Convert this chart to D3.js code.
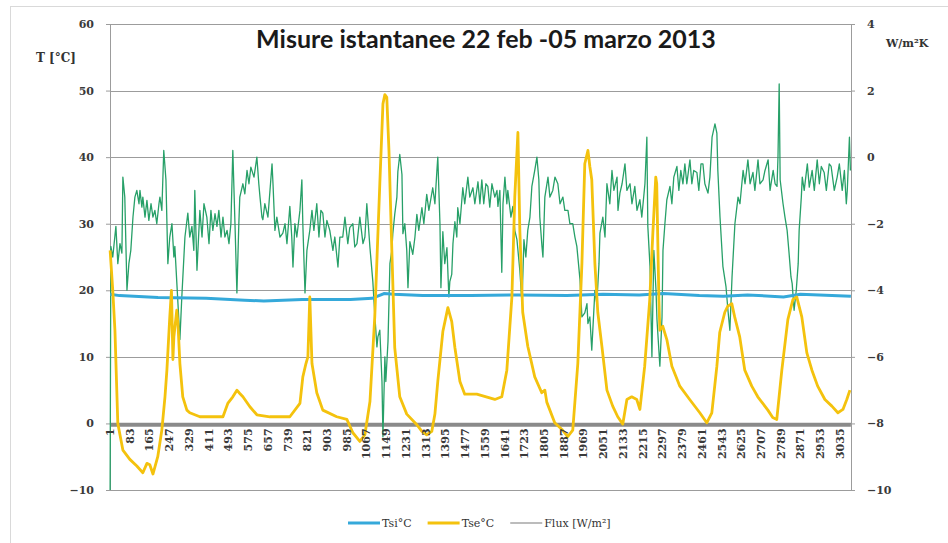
<!DOCTYPE html>
<html>
<head>
<meta charset="utf-8">
<script src="https://cdn.jsdelivr.net/npm/d3@7"></script>
<style>
  body { margin: 0; background: #fff; }
  text { font-family: 'Liberation Sans', Arial, sans-serif; }
</style>
</head>
<body>
<svg id="chart" width="948" height="543"></svg>
<script>
// number of samples on the category axis
const nSamples = 3080;

// category labels shown on the x axis (every 82 samples)
const xTickLabels = [1, 83, 165, 247, 329, 411, 493, 575, 657, 739, 821, 903, 985, 1067, 1149, 1231,
  1313, 1395, 1477, 1559, 1641, 1723, 1805, 1887, 1969, 2051, 2133, 2215, 2297, 2379, 2461, 2543,
  2625, 2707, 2789, 2871, 2953, 3035];
const leftTicks = [-10, 0, 10, 20, 30, 40, 50, 60];
const rightTicks = [-10, -8, -6, -4, -2, 0, 2, 4];

// Tsi °C  [sample, value]
const tsi = [[1, 19.4], [40, 19.2], [200, 18.9], [400, 18.8], [560, 18.5], [640, 18.4], [800, 18.6],
  [1000, 18.6], [1090, 18.8], [1140, 19.5], [1180, 19.4], [1300, 19.2], [1500, 19.2], [1700, 19.3],
  [1900, 19.2], [2050, 19.4], [2200, 19.3], [2300, 19.5], [2450, 19.2], [2550, 19.1], [2650, 19.3],
  [2800, 19.0], [2870, 19.4], [3080, 19.1]];

// Tse °C  [sample, value]
const tse = [[1, 26], [12, 20], [21, 14], [33, 0], [54, -4], [83, -5.4], [112, -6.4], [137, -7.4],
  [154, -6], [166, -6.2], [179, -7.6], [199, -5], [216, -1], [229, 4], [237, 8], [249, 16], [256, 20],
  [262, 9.6], [266, 13], [278, 17], [283, 15], [291, 9], [303, 4], [320, 2], [332, 1.6], [374, 1],
  [470, 1], [490, 3], [511, 4], [528, 5], [540, 4.5], [553, 4], [582, 2.5], [611, 1.3], [665, 1],
  [748, 1], [790, 3], [802, 7], [815, 9], [823, 10], [831, 19], [840, 9], [860, 4.6], [885, 2],
  [943, 1], [985, 0.6], [1010, -1.4], [1039, -2.7], [1060, -1.7], [1081, 3.3], [1101, 16], [1122, 36],
  [1135, 48], [1143, 49.4], [1151, 49], [1160, 41], [1172, 26], [1184, 11.4], [1205, 4], [1234, 1.4],
  [1276, -0.2], [1297, -1.2], [1317, -1.7], [1338, -1.2], [1351, 1.4], [1363, 6.3], [1384, 13.8],
  [1405, 17.4], [1421, 15.3], [1434, 11.4], [1455, 6.3], [1475, 4.4], [1525, 4.4], [1600, 3.6],
  [1629, 4], [1650, 8], [1671, 19], [1683, 34], [1696, 43.7], [1704, 29], [1716, 16.7], [1737, 11.6],
  [1766, 7], [1795, 4.6], [1808, 5], [1816, 3.2], [1849, 0.1], [1879, -0.9], [1903, -2], [1924, -1],
  [1945, 9], [1962, 24], [1974, 39], [1987, 41], [1995, 38.6], [2003, 36.6], [2016, 24], [2028, 16.7],
  [2045, 11.6], [2066, 5], [2090, 2.6], [2111, 1], [2132, -0.1], [2149, 3.6], [2169, 4], [2190, 3.6],
  [2203, 2.1], [2223, 8.6], [2244, 18.6], [2257, 28.7], [2269, 37], [2273, 36], [2282, 18.6],
  [2286, 14], [2298, 14.6], [2315, 12.6], [2336, 8.6], [2369, 5.6], [2410, 3.6], [2452, 1.6],
  [2481, 0.1], [2502, 1.6], [2523, 8.6], [2535, 13.7], [2556, 16.7], [2568, 17.6], [2585, 18],
  [2597, 16], [2618, 13], [2639, 8], [2668, 5.6], [2693, 4], [2735, 2], [2755, 0.9], [2772, 0.6],
  [2793, 8], [2818, 15.6], [2839, 18.6], [2855, 19], [2876, 16], [2897, 10.6], [2918, 8], [2942, 5.6],
  [2972, 3.6], [3001, 2.6], [3026, 1.6], [3047, 2.1], [3063, 3.6], [3076, 5]];

// Flux [W/m²]  [sample, value]
const flux = [[1, -0.2], [600, -0.2], [1200, -0.2], [1800, -0.2], [2400, -0.2], [3080, -0.2]];

// W/m²K on the secondary axis  [sample, value]
const uValue = [[1, -10], [4, -2.68], [12, -3], [25, -2.08], [33, -3.2], [42, -2.6], [50, -2.88],
  [54, -0.6], [62, -1.2], [71, -4], [79, -3.2], [87, -2.8], [96, -1.8], [104, -1.2], [112, -1],
  [121, -1.4], [125, -1], [133, -1.5], [137, -1.2], [146, -1.8], [154, -1.3], [162, -1.9], [171, -1.4],
  [179, -1.8], [187, -1.6], [195, -2], [204, -1.4], [208, -1.2], [216, -1.6], [224, 0.2], [233, -0.68],
  [241, -3.2], [249, -2.4], [258, -2], [266, -3], [270, -2.68], [283, -4.4], [291, -5.48], [299, -4.2],
  [312, -2.4], [324, -1.68], [332, -2.4], [341, -2.08], [349, -2.8], [353, -1], [362, -3.4], [374, -1.6],
  [383, -2.4], [391, -1.4], [403, -1.8], [412, -2.6], [420, -1.6], [428, -2.2], [437, -1.7],
  [445, -2.08], [453, -1.6], [462, -2.4], [470, -1.8], [478, -2.4], [487, -2.2], [495, -2.6], [503, -2],
  [511, 0.2], [520, -2], [528, -4.08], [536, -2], [540, -1.2], [553, -0.8], [561, -1.1], [570, -0.4],
  [578, -0.8], [586, -0.3], [599, -0.6], [611, 0], [619, -0.8], [624, -1.2], [632, -1.8], [636, -1.88],
  [644, -1.4], [657, -1.8], [674, -0.2], [678, -0.8], [686, -2.2], [694, -1.8], [707, -2.4],
  [719, -2.28], [728, -2], [736, -2.6], [748, -1.48], [756, -2.4], [761, -3.3], [769, -2], [777, -2.4],
  [790, -1.6], [798, -0.68], [802, -2], [811, -4.08], [819, -2.8], [831, -2.2], [840, -1.6], [848, -2.2],
  [860, -1.4], [869, -2.4], [877, -1.6], [885, -1.68], [894, -2.4], [902, -1.9], [914, -2.2],
  [927, -2.8], [935, -2.4], [948, -3.3], [956, -2.4], [968, -2.4], [977, -1.8], [989, -2.6],
  [997, -2.12], [1010, -2], [1018, -2.7], [1027, -2.6], [1039, -1.8], [1052, -2.6], [1060, -2.4],
  [1068, -1.4], [1081, -2.72], [1093, -3.74], [1101, -4.72], [1110, -5.7], [1114, -5.4], [1122, -5.2],
  [1131, -6.74], [1135, -8.4], [1143, -6], [1147, -6.74], [1156, -5.54], [1164, -3.2], [1172, -2.8],
  [1176, -2.3], [1184, -1.72], [1193, -1.2], [1197, -0.44], [1205, 0.08], [1214, -0.52], [1218, -2.3],
  [1226, -2], [1234, -2.8], [1239, -3.92], [1247, -2.54], [1259, -2.92], [1268, -2.4], [1276, -1.72],
  [1284, -2.2], [1297, -1.52], [1305, -2], [1317, -1.12], [1326, -1.6], [1342, -0.92], [1351, -1.4],
  [1359, -0.44], [1363, 0], [1372, -2], [1376, -3.92], [1384, -2.24], [1392, -3.2], [1401, -2.72],
  [1409, -4.2], [1413, -3.74], [1421, -3.52], [1426, -2.6], [1434, -1.94], [1442, -2.4], [1446, -1.52],
  [1455, -2], [1467, -0.92], [1475, -1.4], [1488, -0.6], [1496, -1.2], [1509, -0.92], [1517, -1.4],
  [1530, -0.74], [1538, -1.4], [1546, -0.68], [1554, -1.4], [1563, -0.8], [1571, -0.88], [1579, -1.5],
  [1588, -0.8], [1600, -1.2], [1609, -1], [1613, -1.48], [1621, -1], [1629, -3.46], [1634, -1.4],
  [1642, -0.6], [1650, -1.4], [1654, -1], [1667, -1.8], [1675, -1.48], [1683, -2.2], [1692, -2.48],
  [1704, -3.4], [1713, -4.4], [1721, -2.48], [1729, -3], [1737, -2.2], [1746, -1.8], [1754, -0.88],
  [1766, -0.4], [1775, 0], [1783, -0.68], [1787, -1.8], [1796, -2.68], [1800, -3], [1808, -1.2],
  [1821, -0.6], [1829, -1.2], [1841, -1], [1850, -0.6], [1862, -0.8], [1871, -1.4], [1883, -1.2],
  [1891, -1.6], [1904, -1.6], [1912, -2], [1924, -2], [1933, -2.4], [1941, -2.68], [1954, -3.68],
  [1962, -4.8], [1974, -4.68], [1983, -4.4], [1987, -5], [1995, -4.8], [2003, -5.8], [2016, -4],
  [2024, -4.4], [2033, -3.2], [2037, -2.28], [2049, -1.8], [2058, -2.4], [2066, -0.8], [2078, -1.4],
  [2087, -0.4], [2095, -1], [2108, -0.6], [2112, -1.6], [2120, -1.08], [2129, -0.8], [2141, -0.2],
  [2149, -1], [2162, -0.8], [2170, -1.4], [2182, -0.88], [2191, -1.6], [2203, -1.28], [2211, -1.8],
  [2224, -0.8], [2232, 0.6], [2236, -2.08], [2245, -3.28], [2253, -6], [2261, -2.8], [2270, -4],
  [2274, -4.88], [2286, -6.28], [2295, -4.8], [2299, -2.8], [2307, -2], [2315, -1.28], [2328, -0.88],
  [2336, -1.4], [2344, -0.6], [2357, -0.28], [2365, -1], [2373, -0.4], [2382, -0.8], [2390, -0.2],
  [2398, -0.8], [2411, -0.08], [2419, -0.8], [2427, -0.4], [2440, -0.46], [2448, -1], [2457, -0.2],
  [2465, -0.2], [2473, -0.8], [2486, -1.08], [2494, -0.6], [2503, 0.6], [2515, 1], [2523, 0.72],
  [2527, -0.4], [2536, -1.8], [2548, -3.28], [2561, -3.9], [2569, -4.6], [2577, -5.2], [2586, -3.6],
  [2598, -2], [2611, -1.2], [2619, -1.4], [2632, -0.4], [2640, -0.8], [2652, -0.08], [2661, -0.8],
  [2673, -0.46], [2681, -1], [2694, -0.08], [2702, -0.8], [2715, -0.68], [2723, -0.4], [2736, -0.08],
  [2744, -1], [2757, -0.4], [2765, -0.8], [2773, -0.88], [2777, 0], [2782, 2.2], [2786, -0.68],
  [2798, -1.4], [2806, -1.8], [2815, -2.2], [2823, -2.88], [2831, -3.6], [2836, -3.8], [2844, -4.6],
  [2853, -4], [2861, -3.2], [2865, -2.2], [2874, -1.2], [2878, -0.6], [2886, -1], [2899, -0.2],
  [2907, -0.9], [2919, -0.4], [2928, -1], [2940, -0.08], [2949, -0.8], [2957, -0.28], [2969, -0.46],
  [2978, -1], [2990, -0.2], [2998, -0.28], [3011, -1], [3023, -0.6], [3032, -0.2], [3044, -1],
  [3053, -0.4], [3061, -1.4], [3065, -1], [3074, 0.6], [3078, -0.4]];

const legendItems = [
  {name: "Tsi°C", color: "#35a9da", width: 3},
  {name: "Tse°C", color: "#f4c20d", width: 3},
  {name: "Flux [W/m²]", color: "#a6a6a6", width: 1.5}
];

// plot area
const plot = {left: 110, right: 851, top: 24, bottom: 490};

const svg = d3.select("#chart");

// outer chart frame
svg.append("rect")
  .attr("x", 10.5).attr("y", 6.5)
  .attr("width", 960).attr("height", 560)
  .attr("fill", "#fff")
  .attr("stroke", "#d9d9d9");

const x = d3.scaleLinear().domain([0.5, nSamples + 0.5]).range([plot.left, plot.right]);
const yL = d3.scaleLinear().domain([-10, 60]).range([plot.bottom, plot.top]);
const yR = d3.scaleLinear().domain([-10, 4]).range([plot.bottom, plot.top]);

// horizontal gridlines
svg.append("g")
  .selectAll("line")
  .data(leftTicks)
  .join("line")
    .attr("x1", plot.left).attr("x2", plot.right)
    .attr("y1", d => Math.round(yL(d)) + 0.5)
    .attr("y2", d => Math.round(yL(d)) + 0.5)
    .attr("stroke", "#9c9c9c")
    .attr("stroke-width", 1);

// left axis
const leftAxis = svg.append("g")
  .attr("transform", `translate(${plot.left},0)`)
  .call(d3.axisLeft(yL).tickValues(leftTicks).tickSize(4).tickPadding(12));
// right axis
const rightAxis = svg.append("g")
  .attr("transform", `translate(${plot.right},0)`)
  .call(d3.axisRight(yR).tickValues(rightTicks).tickSize(4).tickPadding(12));

[leftAxis, rightAxis].forEach(a => {
  a.select(".domain").attr("stroke", "#9c9c9c");
  a.selectAll(".tick line").attr("stroke", "#9c9c9c");
  a.selectAll(".tick text")
    .attr("fill", "#3a3a3a")
    .style("font-size", "11px")
    .style("font-weight", "bold")
    .style("font-family", "'DejaVu Serif', serif");
});

// line generators
const lineL = d3.line().x(d => x(d[0])).y(d => yL(d[1]));
const lineR = d3.line().x(d => x(d[0])).y(d => yR(d[1]));

// flux (thick gray at zero)
svg.append("path")
  .datum(flux)
  .attr("d", lineL)
  .attr("fill", "none")
  .attr("stroke", "#8a8a8a")
  .attr("stroke-width", 4);

// W/m²K series
svg.append("path")
  .datum(uValue)
  .attr("d", lineR)
  .attr("fill", "none")
  .attr("stroke", "#27a068")
  .attr("stroke-width", 1.3)
  .attr("stroke-linejoin", "round");

// Tsi
svg.append("path")
  .datum(tsi)
  .attr("d", lineL)
  .attr("fill", "none")
  .attr("stroke", "#35a9da")
  .attr("stroke-width", 3);

// Tse
svg.append("path")
  .datum(tse)
  .attr("d", lineL)
  .attr("fill", "none")
  .attr("stroke", "#f4c20d")
  .attr("stroke-width", 2.8)
  .attr("stroke-linejoin", "round");

// category labels, rotated, hanging below the zero line
svg.append("g")
  .selectAll("text")
  .data(xTickLabels)
  .join("text")
    .attr("transform", d => `translate(${x(d)},${yL(0) + 5}) rotate(-90)`)
    .attr("dy", "0.35em")
    .attr("text-anchor", "end")
    .attr("fill", "#3a3a3a")
    .style("font-size", "11px")
    .style("font-weight", "bold")
    .style("font-family", "'DejaVu Serif', serif")
    .text(d => d);

// title
svg.append("text")
  .attr("x", 486).attr("y", 48)
  .attr("text-anchor", "middle")
  .style("font-family", "Lato, 'Open Sans', sans-serif")
  .style("font-size", "25px")
  .style("font-weight", "bold")
  .attr("fill", "#1a1a1a")
  .text("Misure istantanee 22 feb -05 marzo 2013");

// axis titles
svg.append("text")
  .attr("x", 36).attr("y", 62)
  .style("font-size", "12px").style("font-weight", "bold")
  .style("font-family", "'DejaVu Serif', serif")
  .attr("fill", "#333")
  .text("T [°C]");
svg.append("text")
  .attr("x", 886).attr("y", 47)
  .style("font-size", "11px").style("font-weight", "bold")
  .style("font-family", "'DejaVu Serif', serif")
  .attr("fill", "#333")
  .text("W/m²K");

// legend
const legend = svg.append("g").attr("transform", "translate(348,523)");
let lx = 0;
legendItems.forEach((it, i) => {
  const g = legend.append("g").attr("transform", `translate(${lx},0)`);
  g.append("line").attr("x1", 0).attr("x2", 32).attr("y1", 0).attr("y2", 0)
    .attr("stroke", it.color).attr("stroke-width", it.width);
  const t = g.append("text").attr("x", 34).attr("dy", "0.35em")
    .style("font-size", "11px")
    .style("font-family", "'DejaVu Serif', serif")
    .attr("fill", "#333")
    .text(it.name);
  lx += 34 + t.node().getComputedTextLength() + 16;
});
</script>
</body>
</html>
